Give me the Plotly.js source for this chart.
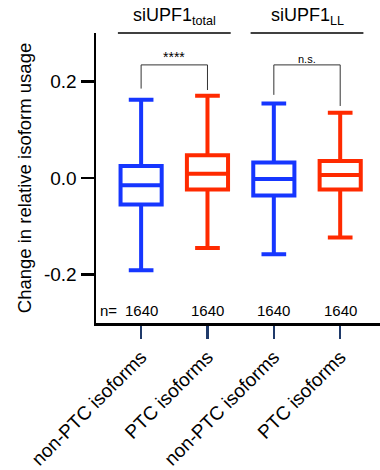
<!DOCTYPE html>
<html>
<head>
<meta charset="utf-8">
<script src="https://cdn.plot.ly/plotly-3.0.1.min.js"></script>
<style>html,body{margin:0;padding:0;background:#fff;}#chart{width:380px;height:470px;}</style>
</head>
<body>
<div id="chart"></div>
<script>
// Categories (x positions) and tick labels
const categories = ["non-PTC isoforms A", "PTC isoforms A", "non-PTC isoforms B", "PTC isoforms B"];
const tickLabels = ["non-PTC isoforms", "PTC isoforms", "non-PTC isoforms", "PTC isoforms"];
const groupKind = ["nonPTC", "PTC", "nonPTC", "PTC"];

// Box statistics
const upperWhisker = [0.162, 0.170, 0.154, 0.135];
const q3Values     = [0.025, 0.047, 0.032, 0.035];
const medianValues = [-0.015, 0.009, -0.002, 0.006];
const q1Values     = [-0.055, -0.024, -0.036, -0.024];
const lowerWhisker = [-0.191, -0.145, -0.158, -0.123];
const nCounts = [1640, 1640, 1640, 1640];

// Group headers and significance brackets
const groupNames = ["siUPF1<sub>total</sub>", "siUPF1<sub>LL</sub>"];
const groupMembers = [[0, 1], [2, 3]];
const sigLabels = ["****", "n.s."];
const bracketTop = [0.234, 0.234];
const bracketLegBottom = [[0.185, 0.182], [0.172, 0.149]];

const yTickVals = [-0.2, 0.0, 0.2];
const yTickText = ["-0.2", "0.0", "0.2"];

const colors = {nonPTC: "#1636ff", PTC: "#ff2a00"};
const FONT = "Liberation Sans, Arial, Helvetica, sans-serif";

const traces = categories.map((c, i) => ({
  type: "box",
  x: [c],
  q1: [q1Values[i]],
  median: [medianValues[i]],
  q3: [q3Values[i]],
  lowerfence: [lowerWhisker[i]],
  upperfence: [upperWhisker[i]],
  width: 0.62,
  whiskerwidth: 0.6,
  fillcolor: "rgba(0,0,0,0)",
  line: {color: colors[groupKind[i]], width: 4},
  boxpoints: false,
  hoverinfo: "skip",
  showlegend: false
}));

const annotations = [];
const shapes = [];

// n labels
annotations.push({x: categories[0], xshift: -22, y: -0.274, xref: "x", yref: "y", text: "n=",
  showarrow: false, xanchor: "right", font: {family: FONT, size: 15, color: "#000"}});
nCounts.forEach((n, i) => annotations.push({x: categories[i], y: -0.274, xref: "x", yref: "y",
  text: String(n), showarrow: false, font: {family: FONT, size: 15, color: "#000"}}));

// group headers with underline
groupNames.forEach((g, k) => {
  const [a, b] = groupMembers[k];
  annotations.push({x: (a + b) / 2, y: 1.0, yshift: 3, yanchor: "bottom", xref: "x", yref: "paper", text: g, showarrow: false,
    font: {family: FONT, size: 18, color: "#000"}});
  shapes.push({type: "line", xref: "x", yref: "paper", x0: a - 0.35, x1: b + 0.35, y0: 1.0, y1: 1.0,
    line: {color: "#000", width: 1.5}});
  // brackets
  const lc = {color: "#333", width: 1};
  shapes.push({type: "line", xref: "x", yref: "y", x0: a, x1: b, y0: bracketTop[k], y1: bracketTop[k], line: lc});
  shapes.push({type: "line", xref: "x", yref: "y", x0: a, x1: a, y0: bracketLegBottom[k][0], y1: bracketTop[k], line: lc});
  shapes.push({type: "line", xref: "x", yref: "y", x0: b, x1: b, y0: bracketLegBottom[k][1], y1: bracketTop[k], line: lc});
  annotations.push({x: (a + b) / 2, y: bracketTop[k], xref: "x", yref: "y", yanchor: "bottom",
    text: sigLabels[k], showarrow: false, yshift: -2,
    font: {family: FONT, size: k === 0 ? 14 : 11, color: "#000"}});
});

const layout = {
  width: 380, height: 470,
  margin: {l: 96, r: 0, t: 33, b: 147},
  paper_bgcolor: "#fff", plot_bgcolor: "#fff",
  boxmode: "overlay",
  font: {family: FONT, color: "#000"},
  xaxis: {
    type: "category",
    range: [-0.68, 3.6],
    tickvals: categories, ticktext: tickLabels,
    tickangle: -45,
    showline: true, linecolor: "#000", linewidth: 2.5,
    ticks: "outside", ticklen: 13, tickwidth: 2.5, tickcolor: "#1f3a6a",
    tickfont: {family: FONT, size: 19, color: "#000"},
    showgrid: false, zeroline: false, fixedrange: true
  },
  yaxis: {
    range: [-0.3, 0.3],
    tickvals: yTickVals, ticktext: yTickText,
    showline: true, linecolor: "#000", linewidth: 2.5,
    ticks: "outside", ticklen: 13, tickwidth: 2.5, tickcolor: "#000",
    tickfont: {family: FONT, size: 19, color: "#000"},
    showgrid: false, zeroline: false,
    title: {text: "Change in relative isoform usage", font: {family: FONT, size: 18.5, color: "#000"}, standoff: 8},
    automargin: false
  },
  annotations: annotations,
  shapes: shapes
};

Plotly.newPlot("chart", traces, layout, {displayModeBar: false, staticPlot: true});
</script>
</body>
</html>
